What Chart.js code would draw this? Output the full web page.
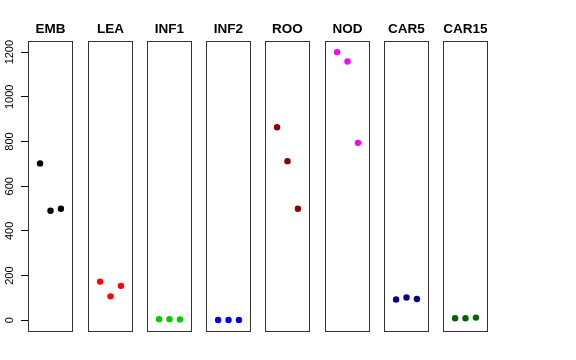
<!DOCTYPE html>
<html>
<head>
<meta charset="utf-8">
<script src="https://cdn.jsdelivr.net/npm/chart.js@4.4.1/dist/chart.umd.min.js"></script>
<style>
  html, body { margin: 0; padding: 0; background: #fff; }
  #wrap { position: relative; width: 576px; height: 360px; overflow: hidden; }
  .panel { position: absolute; top: 0; height: 360px; }
</style>
</head>
<body>
<div id="wrap"></div>
<script>
// panel names and colours
const tissues = ["EMB", "LEA", "INF1", "INF2", "ROO", "NOD", "CAR5", "CAR15"];
const colors = ["#000000", "#FF0000", "#00CD00", "#0000FF", "#8B0000", "#FF00FF", "#00008B", "#006400"];

// replicate index on x, expression value on y
const reps = [1, 2, 3];
const EMB = [702, 490, 499];
const LEA = [173, 107, 154];
const INF1 = [5, 5, 4];
const INF2 = [1, 1, 1];
const ROO = [864, 712, 499];
const NOD = [1200, 1158, 794];
const CAR5 = [93, 102, 95];
const CAR15 = [9, 9, 12];
const values = [EMB, LEA, INF1, INF2, ROO, NOD, CAR5, CAR15];

const yTicks = [0, 200, 400, 600, 800, 1000, 1200];

// layout of the strip panels (page pixels)
const panelLeft = [28, 88, 147, 206, 265, 325, 384, 443];
const panelWidth = 45;
const side = 12;
const axisWidth = 28;

const boxPlugin = {
    id: "box",
    afterDraw(chart) {
        const a = chart.chartArea;
        const ctx = chart.ctx;
        ctx.save();
        ctx.strokeStyle = "#333";
        ctx.lineWidth = 1;
        ctx.strokeRect(Math.round(a.left) + 0.5, Math.round(a.top) + 0.5,
            Math.round(a.right - a.left) - 1, Math.round(a.bottom - a.top));
        ctx.restore();
    }
};

const wrap = document.getElementById("wrap");

tissues.forEach((name, i) => {
    const first = i === 0;
    const div = document.createElement("div");
    div.className = "panel";
    const left = first ? 0 : panelLeft[i] - side;
    const width = first ? axisWidth + panelWidth + side : panelWidth + 2 * side;
    div.style.left = left + "px";
    div.style.width = width + "px";
    const canvas = document.createElement("canvas");
    div.appendChild(canvas);
    wrap.appendChild(div);

    new Chart(canvas.getContext("2d"), {
        type: "scatter",
        data: {
            datasets: [{
                label: name,
                data: reps.map((r, k) => ({ x: r, y: values[i][k] })),
                backgroundColor: colors[i],
                borderColor: colors[i],
                pointRadius: 3.2,
                pointBorderWidth: 0,
            }],
        },
        options: {
            responsive: true,
            maintainAspectRatio: false,
            animation: false,
            events: [],
            layout: {
                padding: { left: first ? 0 : side, right: side, top: 0, bottom: 29 },
            },
            plugins: {
                legend: { display: false },
                tooltip: { enabled: false },
                title: {
                    display: true,
                    text: name,
                    fullSize: !first,
                    color: "#000",
                    font: { family: "'Liberation Sans', Arial, sans-serif", size: 13.5, weight: "bold" },
                    padding: { top: 21.6, bottom: 3.6 },
                },
            },
            scales: {
                x: {
                    type: "linear",
                    display: false,
                    min: -0.16,
                    max: 4.16,
                },
                y: {
                    type: "linear",
                    display: first,
                    position: "left",
                    min: -48,
                    max: 1248,
                    afterBuildTicks: (scale) => {
                        scale.ticks = yTicks.map(v => ({ value: v }));
                    },
                    afterFit: (scale) => {
                        scale.width = first ? axisWidth : 0;
                    },
                    grid: {
                        display: true,
                        drawOnChartArea: false,
                        drawTicks: true,
                        tickLength: 7,
                        color: "#000",
                    },
                    border: { display: true, color: "#333" },
                    ticks: {
                        color: "#000",
                        font: { family: "'Liberation Sans', Arial, sans-serif", size: 11 },
                        minRotation: 90,
                        maxRotation: 90,
                        crossAlign: "center",
                        padding: -1,
                        callback: (v) => String(v),
                    },
                },
            },
        },
        plugins: [boxPlugin],
    });
});
</script>
</body>
</html>
